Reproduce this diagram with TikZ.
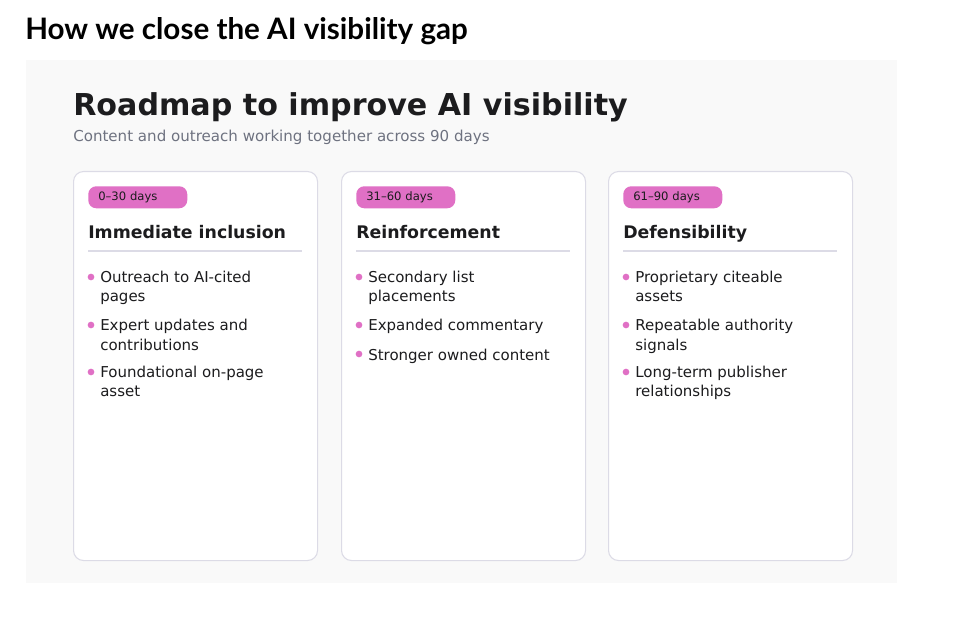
\documentclass[tikz,border=0pt]{standalone}
\usepackage{fontspec}
\setmainfont{DejaVu Sans}
\newfontfamily\headfont{Lato}
\definecolor{panelgray}{HTML}{F9F9F9}
\definecolor{cardline}{HTML}{DCDBE6}
\definecolor{pillpink}{HTML}{E070C5}
\definecolor{subgray}{HTML}{6E7280}
\definecolor{inkdark}{HTML}{1C1C1E}
\tikzset{
  card/.style={draw=cardline, fill=white, line width=0.8pt, rounded corners=7.5pt,
    inner sep=0pt, minimum width=183pt, minimum height=291.75pt, anchor=north west},
  pill/.style={fill=pillpink, rounded corners=6pt, inner ysep=0pt, inner xsep=7.5pt,
    text width=59.25pt, minimum height=16.5pt, align=left, anchor=north west,
    font=\fontsize{8.7}{10}\selectfont, text=inkdark},
  cardhead/.style={anchor=base west, inner sep=0pt, font=\fontsize{13}{15}\selectfont\bfseries, text=inkdark},
  item/.style={anchor=base west, inner sep=0pt, align=left,
    font=\fontsize{11.25}{14.25}\selectfont, text=inkdark},
  dot/.style={circle, fill=pillpink, inner sep=0pt, minimum size=5pt}
}
\begin{document}
\begin{tikzpicture}[x=0.75pt, y=-0.75pt]
  \useasboundingbox (0,0) rectangle (956,623);
  \node[anchor=base west, inner sep=0pt, font=\headfont\fontsize{22.2}{26}\selectfont\bfseries] (heading) at (25,40) {How we close the AI visibility gap};
  \fill[panelgray] (26,60) rectangle (897,583);
  \node[anchor=base west, inner sep=0pt, font=\fontsize{22.6}{27}\selectfont\bfseries, text=inkdark] (title) at (73,116) {Roadmap to improve AI visibility};
  \node[anchor=base west, inner sep=0pt, font=\fontsize{11.3}{14}\selectfont, text=subgray] (subtitle) at (73,142) {Content and outreach working together across 90 days};
  \foreach \c/\x/\days/\head in {1/73/0--30 days/Immediate inclusion,2/341/31--60 days/Reinforcement,3/608/61--90 days/Defensibility}
  {
    \node[card] (card\c) at (\x,171) {};
    \node[pill] (pill\c) at (\x+15,186) {\days};
    \node[cardhead] (head\c) at (\x+15,239) {\head};
    \draw[cardline, line width=0.8pt] (\x+15,251) -- (\x+229,251);
  }
  % y = first baseline, \l = last baseline
  \foreach \c/\i/\x/\y/\l/\txt in {1/1/73/283/302/{Outreach to AI-cited\\pages},1/2/73/331/350/{Expert updates and\\contributions},1/3/73/378/397/{Foundational on-page\\asset},
    2/1/341/283/302/{Secondary list\\placements},2/2/341/331/331/{Expanded commentary},2/3/341/360/360/{Stronger owned content},
    3/1/608/283/302/{Proprietary citeable\\assets},3/2/608/331/350/{Repeatable authority\\signals},3/3/608/378/397/{Long-term publisher\\relationships}}
  {
    \node[dot] (dot\c\i) at (\x+18,\y-6) {};
    \node[item] (item\c\i) at (\x+27,\l) {\txt};
  }
\end{tikzpicture}
\end{document}
